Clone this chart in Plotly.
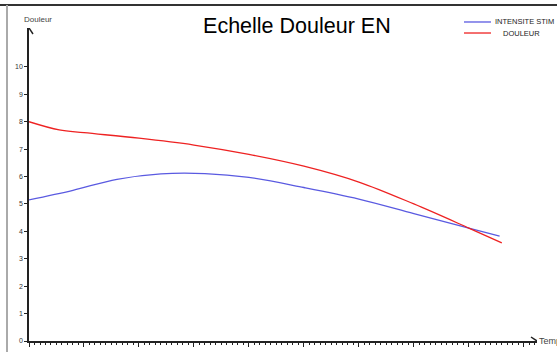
import plotly.graph_objects as go

# time axis: one minor tick = 1 unit, one major tick = 10 units
temps_stim = [0, 8, 16, 24, 32, 40, 50, 60, 70, 80, 85.6]
intensite_stim = [5.15, 5.5, 5.9, 6.1, 6.11, 5.97, 5.6, 5.18, 4.65, 4.12, 3.83]

temps_douleur = [0, 5.5, 10, 20, 30, 40, 50, 60, 70, 80, 86]
douleur = [8.0, 7.7, 7.6, 7.4, 7.15, 6.81, 6.38, 5.8, 5.0, 4.12, 3.58]

y_ticks = list(range(0, 11))
x_max = 92.4
y_max = 11.42
marque_temps = 21.6

fig = go.Figure()
fig.add_trace(go.Scatter(x=temps_stim, y=intensite_stim, mode='lines',
                         name='INTENSITE STIM',
                         line=dict(color='rgb(90,90,225)', width=1.3, shape='spline', smoothing=1)))
fig.add_trace(go.Scatter(x=temps_douleur, y=douleur, mode='lines',
                         name='DOULEUR',
                         line=dict(color='rgb(238,34,34)', width=1.3, shape='spline', smoothing=1)))

fig.update_xaxes(range=[0, x_max], showline=True, linecolor='#222', linewidth=1.5,
                 showgrid=False, zeroline=False, showticklabels=False, automargin=False,
                 ticks='outside', ticklen=4, tickcolor='#222', dtick=10, tick0=0,
                 minor=dict(ticks='outside', ticklen=2, dtick=1, tickcolor='#222'))
fig.update_yaxes(range=[0, y_max], showline=True, linecolor='#222', linewidth=1.5,
                 showgrid=False, zeroline=False, automargin=False,
                 ticks='outside', ticklen=3, tickcolor='#222', tickvals=y_ticks,
                 tickfont=dict(size=7, color='#333'))

# axis arrow heads
fig.add_shape(type='path', xref='x', yref='y', xsizemode='pixel', ysizemode='pixel',
              xanchor=0, yanchor=y_max, path='M -4,-6 L 0,0 L 4,-6',
              line=dict(color='#222', width=1.5))
fig.add_shape(type='path', xref='x', yref='y', xsizemode='pixel', ysizemode='pixel',
              xanchor=x_max, yanchor=0, path='M -6,-4 L 0,0 L -6,4',
              line=dict(color='#222', width=1.5))
# small red time marker on x axis
fig.add_shape(type='line', xref='x', yref='y', ysizemode='pixel', yanchor=0,
              x0=marque_temps, x1=marque_temps, y0=0, y1=-3,
              line=dict(color='rgb(238,34,34)', width=1))

# frame
fig.add_shape(type='line', xref='paper', yref='paper', x0=-0.06, x1=1.05, y0=1.0735, y1=1.0735,
              line=dict(color='#333', width=2))
fig.add_shape(type='line', xref='paper', yref='paper', x0=-0.0433, x1=-0.0433, y0=-0.035, y1=1.0735,
              line=dict(color='#aaa', width=2))

# legend drawn by hand (tight line spacing)
legende = [('INTENSITE STIM', 'rgb(90,90,225)', 1.0192, 0.9134),
           ('DOULEUR', 'rgb(238,34,34)', 0.984, 0.9291)]
for nom, couleur, ypos, xtexte in legende:
    fig.add_shape(type='line', xref='paper', yref='paper', x0=0.8563, x1=0.9094, y0=ypos, y1=ypos,
                  line=dict(color=couleur, width=1.3))
    fig.add_annotation(text=nom, xref='paper', yref='paper', x=xtexte, y=ypos,
                       xanchor='left', yanchor='middle', showarrow=False,
                       font=dict(size=7.5, color='#222'))

fig.add_annotation(text='Douleur', xref='paper', yref='paper', x=-0.014, y=1.0256,
                   xanchor='left', yanchor='middle', showarrow=False,
                   font=dict(size=8, color='#444'))
fig.add_annotation(text='Temps', xref='paper', yref='paper', x=1.0, y=0,
                   xanchor='left', yanchor='middle', showarrow=False,
                   font=dict(size=9, color='#444'))

fig.update_layout(
    width=557, height=357,
    margin=dict(l=29, r=20, t=28, b=16, autoexpand=False),
    paper_bgcolor='white', plot_bgcolor='white',
    font=dict(family='Liberation Sans, Arial, sans-serif'),
    title=dict(text='Echelle Douleur EN', x=0.533, xref='container', xanchor='center',
               y=0.93, yref='container', yanchor='middle',
               font=dict(size=21.5, color='black')),
    showlegend=False,
)

# page body has an 8px default margin; drop it so the figure sits at the corner
fig.write_html("out.html", config={'displayModeBar': False},
               post_script="document.body.style.margin='0px';")
